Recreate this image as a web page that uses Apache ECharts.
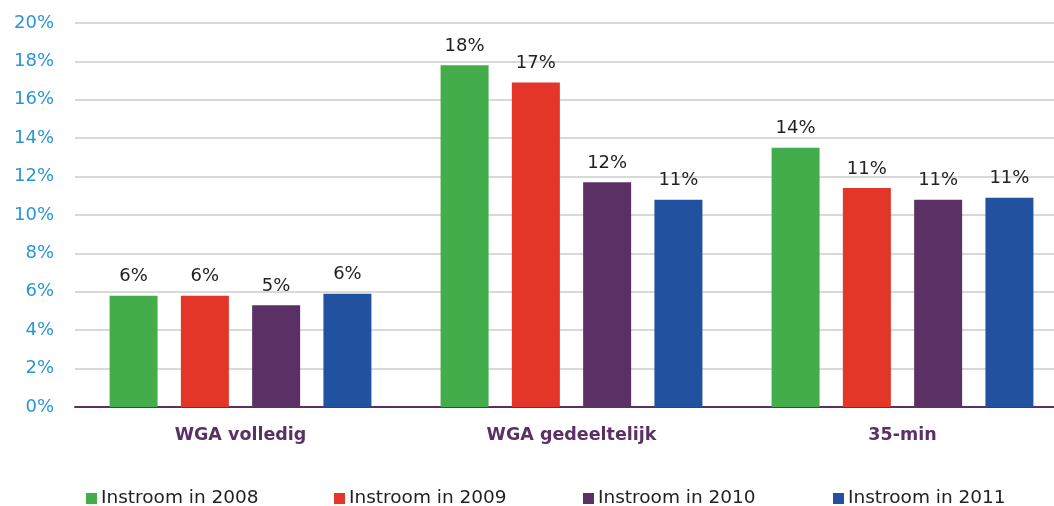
<!DOCTYPE html>
<html>
<head>
<meta charset="utf-8">
<script src="https://cdn.jsdelivr.net/npm/echarts@6/dist/echarts.min.js"></script>
<style>
html, body { margin: 0; padding: 0; background: #fff; }
#chart { width: 1054px; height: 506px; }
</style>
</head>
<body>
<div id="chart"></div>
<script>
// categorieen en instroom per jaar (in %)
var categories = ['WGA volledig', 'WGA gedeeltelijk', '35-min'];
var seriesNames = ['Instroom in 2008', 'Instroom in 2009', 'Instroom in 2010', 'Instroom in 2011'];
var in2008 = [5.8, 17.8, 13.5];
var in2009 = [5.8, 16.9, 11.4];
var in2010 = [5.3, 11.7, 10.8];
var in2011 = [5.9, 10.8, 10.9];
var yTicks = [0, 2, 4, 6, 8, 10, 12, 14, 16, 18, 20];

var colors = ['#43ad4b', '#e33629', '#5b3165', '#22519f'];
var allData = [in2008, in2009, in2010, in2011];
var legendLeft = [86, 334, 583, 833];

var myChart = echarts.init(document.getElementById('chart'));

var series = [];
var legends = [];
for (var i = 0; i < allData.length; i++) {
    series.push({
        name: seriesNames[i],
        type: 'bar',
        data: allData[i],
        barWidth: 48,
        barGap: '48.5%',
        itemStyle: { color: colors[i] },
        label: {
            show: true,
            position: 'top',
            distance: 10,
            color: '#222',
            fontSize: 18,
            fontFamily: 'DejaVu Sans',
            formatter: function (p) { return Math.round(p.value) + '%'; }
        }
    });
    // elk legenda-item apart gepositioneerd
    legends.push({
        data: [seriesNames[i]],
        left: legendLeft[i],
        top: 489,
        padding: 0,
        icon: 'rect',
        itemWidth: 11,
        itemHeight: 11,
        itemGap: 0,
        textStyle: {
            color: '#222',
            fontSize: 18.5,
            fontFamily: 'DejaVu Sans',
            padding: [0, 0, 0, -1]
        }
    });
}

var option = {
    animation: false,
    grid: { left: 75, width: 993, top: 23, bottom: 99, outerBoundsMode: 'none' },
    legend: legends,
    xAxis: {
        type: 'category',
        data: categories,
        axisTick: { show: false },
        axisLine: { lineStyle: { color: '#5b3165', width: 2 } },
        axisLabel: {
            color: '#5b3165',
            fontWeight: 'bold',
            fontSize: 17.5,
            fontFamily: 'DejaVu Sans',
            margin: 19
        }
    },
    yAxis: {
        type: 'value',
        min: yTicks[0],
        max: yTicks[yTicks.length - 1],
        interval: 2,
        axisLine: { show: false },
        axisTick: { show: false },
        axisLabel: {
            color: '#2a96d6',
            fontSize: 18,
            fontFamily: 'DejaVu Sans',
            margin: 21,
            formatter: '{value}%'
        },
        splitLine: { lineStyle: { color: '#d9d9d9', width: 2 } }
    },
    series: series
};

myChart.setOption(option);
</script>
</body>
</html>
